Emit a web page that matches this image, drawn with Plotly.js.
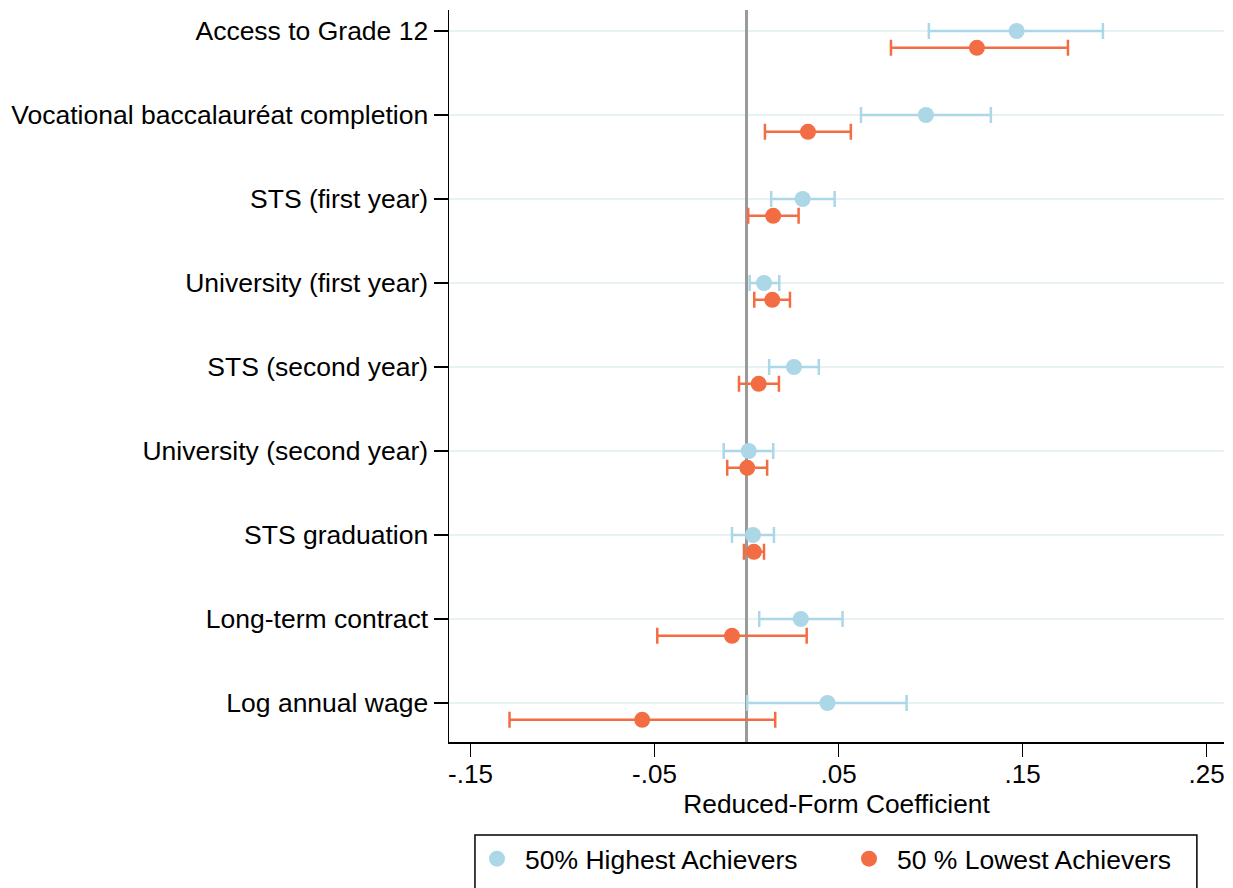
<!DOCTYPE html>
<html>
<head>
<meta charset="utf-8">
<script src="https://cdn.plot.ly/plotly-3.0.1.min.js"></script>
<style>
html,body{margin:0;padding:0;background:#fff;}
#chart{width:1233px;height:888px;}
</style>
</head>
<body>
<div id="chart"></div>
<script>
// ---- Data ----
const categories = [
  "Access to Grade 12",
  "Vocational baccalauréat completion",
  "STS (first year)",
  "University (first year)",
  "STS (second year)",
  "University (second year)",
  "STS graduation",
  "Long-term contract",
  "Log annual wage"
];
const highEst = [0.1468, 0.0975, 0.0305, 0.0095, 0.0258, 0.0012, 0.0035, 0.0295, 0.0440];
const highLo  = [0.0991, 0.0622, 0.0134, 0.0017, 0.0123, -0.0124, -0.0079, 0.0069, 0.0004];
const highHi  = [0.1937, 0.1328, 0.0479, 0.0178, 0.0393, 0.0145, 0.0149, 0.0522, 0.0870];
const lowEst  = [0.1252, 0.0334, 0.0145, 0.0140, 0.0066, 0.0004, 0.0040, -0.0079, -0.0567];
const lowLo   = [0.0785, 0.0100, 0.0009, 0.0042, -0.0041, -0.0105, -0.0014, -0.0485, -0.1288];
const lowHi   = [0.1747, 0.0567, 0.0283, 0.0236, 0.0176, 0.0112, 0.0095, 0.0327, 0.0156];
const seriesNames = ["50% Highest Achievers", "50 % Lowest Achievers"];
const xTickVals = [-0.15, -0.05, 0.05, 0.15, 0.25];
const xTickText = ["-.15", "-.05", ".05", ".15", ".25"];

// ---- Positions ----
const n = categories.length;
const catPos = categories.map((c, i) => n - i);
const lowOffset = 0.2;

const blue = "#abd7e6";
const orange = "#f26d43";
const FONT = "Liberation Sans, Arial, Helvetica, sans-serif";

const traces = [
  {
    type: "scatter", mode: "markers", name: seriesNames[0],
    x: highEst, y: catPos,
    marker: {color: blue, size: 16},
    error_x: {type: "data", symmetric: false,
      array: highHi.map((h, i) => h - highEst[i]),
      arrayminus: highEst.map((e, i) => e - highLo[i]),
      color: blue, thickness: 2.5, width: 8},
    cliponaxis: false
  },
  {
    type: "scatter", mode: "markers", name: seriesNames[1],
    x: lowEst, y: catPos.map(p => p - lowOffset),
    marker: {color: orange, size: 16},
    error_x: {type: "data", symmetric: false,
      array: lowHi.map((h, i) => h - lowEst[i]),
      arrayminus: lowEst.map((e, i) => e - lowLo[i]),
      color: orange, thickness: 2.5, width: 8},
    cliponaxis: false
  }
];

const layout = {
  width: 1233, height: 888,
  paper_bgcolor: "#ffffff", plot_bgcolor: "#ffffff",
  margin: {l: 449, r: 9, t: 10, b: 146, pad: 0},
  font: {family: FONT, size: 26.5, color: "#000"},
  showlegend: true,
  legend: {
    orientation: "h", xref: "paper", x: 0.0258, xanchor: "left",
    yref: "container", y: 0.0327, yanchor: "middle",
    font: {family: FONT, size: 26.5, color: "#000"},
    bgcolor: "rgba(0,0,0,0)", borderwidth: 0,
    itemwidth: 46, entrywidth: 311, entrywidthmode: "pixels"
  },
  xaxis: {
    range: [-0.1617, 0.2595],
    tickmode: "array", tickvals: xTickVals, ticktext: xTickText,
    ticks: "outside", ticklen: 13, tickwidth: 1.5, tickcolor: "#000",
    ticklabelstandoff: -5,
    showline: true, linecolor: "#000", linewidth: 1.5,
    showgrid: false,
    zeroline: true, zerolinecolor: "#9a9a9a", zerolinewidth: 3,
    tickfont: {family: FONT, size: 26, color: "#000"},
    title: {text: "Reduced-Form Coefficient", font: {family: FONT, size: 26.3, color: "#000"}, standoff: 2},
    automargin: true
  },
  yaxis: {
    range: [0.5357, 9.25],
    tickmode: "array", tickvals: catPos, ticktext: categories,
    ticks: "outside", ticklen: 14, tickwidth: 1.5, tickcolor: "#000",
    showline: true, linecolor: "#000", linewidth: 1.5,
    showgrid: true, gridcolor: "#e8f1f3", gridwidth: 2,
    zeroline: false,
    tickfont: {family: FONT, size: 26.5, color: "#000"},
    automargin: false
  },
  shapes: [
    {type: "rect", xref: "paper", yref: "paper",
     x0: 0.0335, x1: 0.965, y0: -0.127, y1: -0.3,
     line: {color: "#000", width: 1.5}, fillcolor: "rgba(0,0,0,0)", layer: "below"}
  ]
};

Plotly.newPlot("chart", traces, layout, {displayModeBar: false, staticPlot: true});
</script>
</body>
</html>
